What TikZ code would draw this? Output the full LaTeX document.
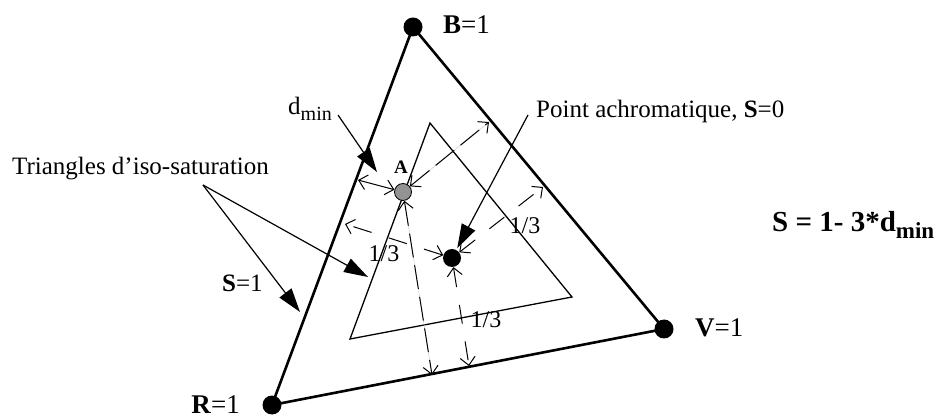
\documentclass[tikz,border=0pt]{standalone}
\usepackage{fontspec}
\setmainfont{Liberation Serif}
\usetikzlibrary{arrows.meta}
\begin{document}
\begin{tikzpicture}[x=1pt,y=-1pt,
  outer/.style={line width=2.6pt, line join=round},
  inner/.style={line width=1.3pt, line join=miter},
  vdot/.style={circle, fill=black, inner sep=0pt, minimum size=19pt},
  adot/.style={circle, fill=gray!85, draw=black, line width=0.8pt, inner sep=0pt, minimum size=17pt},
  callout/.style={line width=1.2pt, -{Triangle[length=24pt,width=15pt]}},
  barbs/.style={line width=1pt, {Straight Barb[length=8pt,width=15pt]}-{Straight Barb[length=8pt,width=15pt]}},
  adash/.style={dash pattern=on 24pt off 8pt},
  cdash/.style={dash pattern=on 19pt off 18pt},
  lbl/.style={font=\fontsize{25}{29}\selectfont, inner sep=0pt},
  vlbl/.style={font=\fontsize{27}{30}\selectfont, inner sep=0pt},
  frac/.style={font=\fontsize{24}{28}\selectfont, inner sep=0pt},
  underlay/.style={gray!35, line width=0.6pt},
]
\useasboundingbox (0,0) rectangle (942,419);

% positions
\coordinate (Bp) at (413,27);
\coordinate (Rp) at (272,405);
\coordinate (Vp) at (664,329);
\coordinate (I1) at (430,123);
\coordinate (I2) at (350,339);
\coordinate (I3) at (572,297);

% triangles
\draw[outer] (Bp) -- (Vp) -- (Rp) -- cycle;
\draw[inner] (I1) -- (I3) -- (I2) -- cycle;

% points
\node[vdot] (B) at (Bp) {};
\node[vdot] (R) at (Rp) {};
\node[vdot] (V) at (Vp) {};
\node[vdot, minimum size=18pt] (C) at (452,258) {};
\node[adot] (A) at (403,192) {};

% connector end points
\coordinate (aL) at (358,180);
\coordinate (aR) at (489,122);
\coordinate (aD) at (432,375);
\coordinate (cL) at (345,224);
\coordinate (cR) at (543,187);
\coordinate (cD) at (469,366);

% distances from A
\draw[barbs] (A) -- (aL);
\draw[underlay] (A) -- (aR);
\draw[barbs, adash] (A) -- (aR);
\draw[underlay] (A) -- (aD);
\draw[barbs, adash] (A) -- (aD);

% distances from achromatic point
\draw[barbs, cdash] (C) -- (cL);
\draw[barbs, cdash] (C) -- (cR);
\draw[barbs, cdash] (C) -- (cD);

% 1/3 labels
\node[frac] (f1) at (384,254) {1/3};
\node[frac] (f2) at (525,226) {1/3};
\node[frac] (f3) at (486,320) {1/3};

% text labels
\node[lbl, anchor=base west] (tri) at (12,175) {Triangles d’iso-saturation};
\node[lbl, anchor=base west] (s1) at (222,292) {\textbf{S}=1};
\node[lbl, anchor=base west] (pa) at (536,118) {Point achromatique, \textbf{S}=0};
\node[lbl, anchor=base west] (dl) at (288,115) {d\raisebox{-6pt}{\fontsize{20}{20}\selectfont min}};
\node[font=\fontsize{19}{22}\selectfont\bfseries, inner sep=0pt] (al) at (401,167) {A};
\node[vlbl, anchor=base west] (bl) at (443,34) {\textbf{B}=1};
\node[vlbl, anchor=base west] (vl) at (695,337) {\textbf{V}=1};
\node[vlbl, anchor=base east] (rl) at (240,413) {\textbf{R}=1};
\node[font=\fontsize{29}{32}\selectfont\bfseries, inner sep=0pt, anchor=base west] (sf) at (772,232) {S = 1- 3*d\raisebox{-7pt}{\fontsize{23}{23}\selectfont min}};

% callouts
\coordinate (dS) at (338,115);
\coordinate (dT) at (377,172);
\draw[callout] (dS) -- (dT);
\coordinate (tS) at (203,185);
\coordinate (tT1) at (300,312);
\coordinate (tT2) at (368,277);
\draw[callout] (tS) -- (tT1);
\draw[callout] (tS) -- (tT2);
\coordinate (pS) at (528,115);
\draw[callout, shorten >=2pt] (pS) -- (C);
\end{tikzpicture}
\end{document}
